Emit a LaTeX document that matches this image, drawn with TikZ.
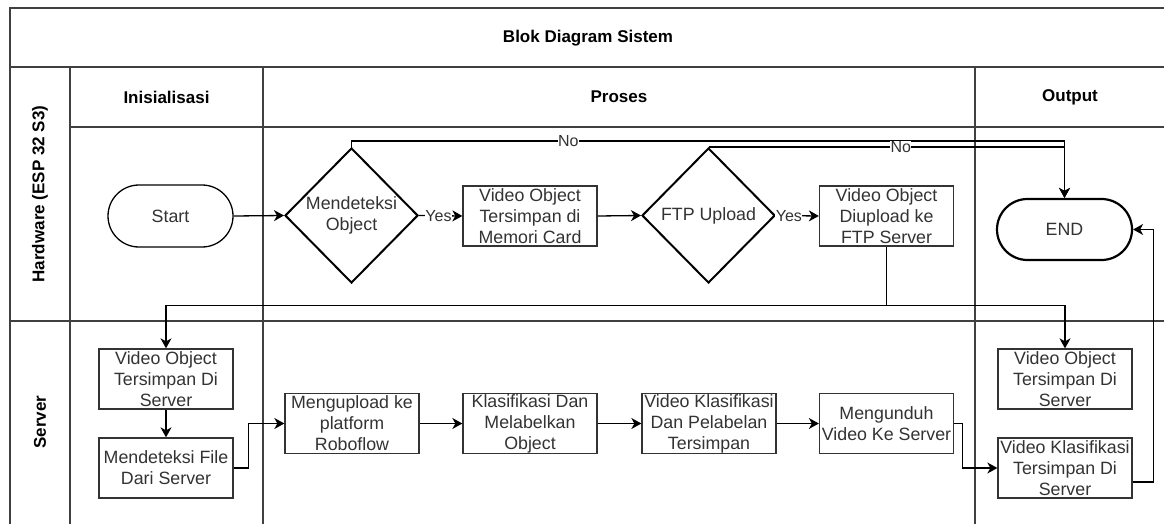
\documentclass[tikz,border=0pt]{standalone}
\usepackage{fontspec}
\setmainfont{Liberation Sans}
\usetikzlibrary{shapes.geometric,shapes.misc,arrows.meta}
\newcommand{\boxfont}{\fontsize{17.8}{21}\selectfont}
\newcommand{\headfont}{\fontsize{17}{20}\selectfont\bfseries}
\newcommand{\lblfont}{\fontsize{16}{18}\selectfont}
\tikzset{
  lane/.style={draw=black!75, line width=1.3pt},
  box/.style={draw=black!80, line width=1.3pt, minimum width=134pt, minimum height=60pt,
    inner sep=0pt, align=center, font=\boxfont, text=black!80},
  dec/.style={diamond, draw=black, line width=2pt, minimum width=133pt, minimum height=135pt,
    inner sep=0pt, align=center, font=\boxfont, text=black!80},
  term/.style={rounded rectangle, draw=black, minimum width=125pt, minimum height=62pt,
    inner sep=0pt, font=\boxfont, text=black!80},
  head/.style={font=\headfont, text=black},
  arr/.style={draw=black, line width=1.3pt, -{Stealth[length=10pt,width=11pt,inset=3pt]}},
  ln/.style={draw=black, line width=1.3pt},
  lbl/.style={fill=white, inner sep=0.5pt, font=\lblfont, text=black!80}
}
\begin{document}
\begin{tikzpicture}[x=1pt,y=-1pt]
\useasboundingbox (0,0) rectangle (1164,524);
\fill[white] (0,0) rectangle (1164,524);

% pool frame, lanes and columns
\draw[lane] (10,530) -- (10,8) -- (1170,8);
\draw[lane] (10,67) -- (1170,67);
\draw[lane] (70,127) -- (1170,127);
\draw[lane] (10,321) -- (1170,321);
\draw[lane] (70,67) -- (70,530);
\draw[lane] (263,67) -- (263,530);
\draw[lane] (975,67) -- (975,530);

% titles
\node[head] (title) at (588,38) {Blok Diagram Sistem};
\node[head] (hInit) at (166.5,97) {Inisialisasi};
\node[head] (hProc) at (619,97) {Proses};
\node[head] (hOut) at (1070,97) {Output};
\node[head, rotate=90] (laneHw) at (40,194) {Hardware (ESP 32 S3)};
\node[head, rotate=90] (laneSv) at (40,422) {Server};

% hardware lane
\node[term, line width=1.3pt] (start) at (170.5,216) {Start};
\node[dec] (dec1) at (351.5,215.5) {Mendeteksi\\Object};
\node[box] (box1) at (530,216) {Video Object\\Tersimpan di\\Memori Card};
\node[dec] (dec2) at (708.5,215.5) {FTP Upload};
\node[box] (box2) at (886.5,216) {Video Object\\Diupload ke\\FTP Server};
\node[term, line width=2.2pt, minimum width=135pt, minimum height=61pt] (endn) at (1064.5,229.5) {END};

% server lane
\node[box] (s1) at (166,379) {Video Object\\Tersimpan Di\\Server};
\node[box] (s2) at (166,468) {Mendeteksi File\\Dari Server};
\node[box] (p1) at (352,423.5) {Mengupload ke\\platform\\Roboflow};
\node[box] (p2) at (530,423.5) {Klasifikasi Dan\\Melabelkan\\Object};
\node[box] (p3) at (709,423.5) {Video Klasifikasi\\Dan Pelabelan\\Tersimpan};
\node[box] (p4) at (886.5,423.5) {Mengunduh\\Video Ke Server};
\node[box] (o1) at (1065,379) {Video Object\\Tersimpan Di\\Server};
\node[box] (o2) at (1065,468) {Video Klasifikasi\\Tersimpan Di\\Server};

% flow in the hardware lane
\draw[arr] (start.east) -- (dec1.west);
\draw[arr] (dec1.east) -- node[lbl, pos=0.45] {Yes} (box1.west);
\draw[arr] (box1.east) -- (dec2.west);
\draw[arr] (dec2.east) -- node[lbl, pos=0.3] {Yes} (box2.west);
\draw[arr] (dec1.north) -- ++(0,-6) coordinate (n1)
  -- node[lbl, pos=0.304] {No} (n1 -| endn.north) -- (endn.north);
\draw[arr] (dec2.north) -- node[lbl, pos=0.54] {No} (dec2.north -| endn.north) -- (endn.north);

% upload splits to both server copies
\draw[ln] (box2.south) -- ++(0,59) coordinate (split);
\draw[arr] (split) -| (s1.north);
\draw[arr] (split) -| (o1.north);

% flow in the server lane
\draw[arr] (s1.south) -- (s2.north);
\draw[arr] (s2.east) -- ++(15,0) |- (p1.west);
\draw[arr] (p1.east) -- (p2.west);
\draw[arr] (p2.east) -- (p3.west);
\draw[arr] (p3.east) -- (p4.west);
\draw[arr] (p4.east) -- ++(8,0) |- (o2.west);
\draw[arr] ([yshift=-14pt]o2.east) -- ++(21,0) |- (endn.east);
\end{tikzpicture}
\end{document}
